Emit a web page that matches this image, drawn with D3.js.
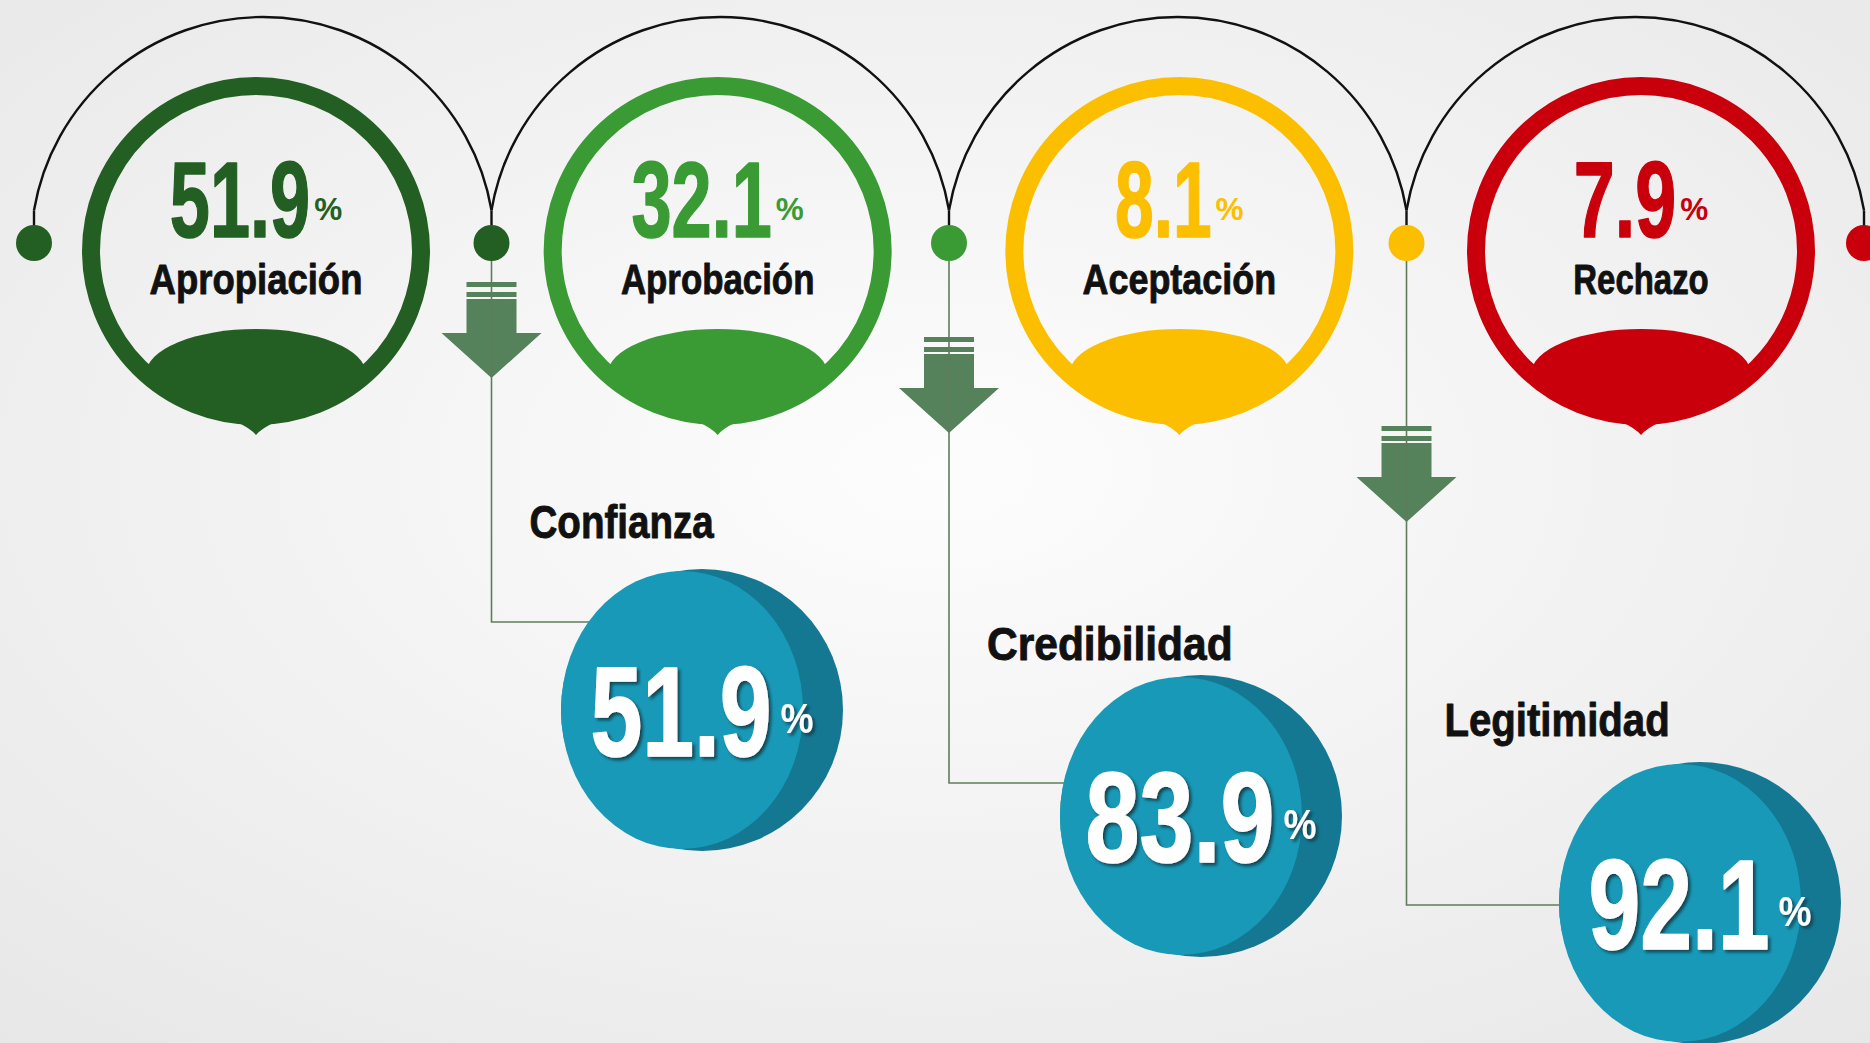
<!DOCTYPE html>
<html><head><meta charset="utf-8">
<script src="https://cdn.jsdelivr.net/npm/d3@7"></script>
<style>html,body{margin:0;padding:0;overflow:hidden;background:#f3f3f3}</style>
</head><body><svg id="c" width="1870" height="1043"></svg>
<script>
// ---- data ----
const categories = ["Apropiación", "Aprobación", "Aceptación", "Rechazo"];
const values = [51.9, 32.1, 8.1, 7.9];
const ringColors = ["#235f22", "#3a9b35", "#fcbf00", "#c9000b"];
const outcomes = ["Confianza", "Credibilidad", "Legitimidad"];
const outcomeValues = [51.9, 83.9, 92.1];

// ---- layout ----
const W = 1870, H = 1043;
const FONT = '"Liberation Sans","Roboto",Arial,sans-serif';
const CAP = 0.716; // cap-height ratio of the font
const svg = d3.select("#c");
const defs = svg.append("defs");
const rg = defs.append("radialGradient").attr("id", "bg").attr("cx", "50%").attr("cy", "45%").attr("r", "75%");
rg.append("stop").attr("offset", "0%").attr("stop-color", "#fdfdfd");
rg.append("stop").attr("offset", "100%").attr("stop-color", "#e7e7e7");
svg.append("rect").attr("width", W).attr("height", H).attr("fill", "url(#bg)");
const f = defs.append("filter").attr("id", "sh").attr("x", "-20%").attr("y", "-20%").attr("width", "140%").attr("height", "140%");
f.append("feDropShadow").attr("dx", 2.5).attr("dy", 2.5).attr("stdDeviation", 1.5)
  .attr("flood-color", "#0a3441").attr("flood-opacity", 0.85);

const xRing = d3.scalePoint().domain(categories).range([256, 1641]);
const xDot = d3.scalePoint().domain(d3.range(categories.length + 1)).range([34, 1864]);
const dotColor = i => ringColors[Math.max(0, i - 1)];
const dotY = 243, dotR = 18, ringCY = 251, R = 165, SW = 18;
const arcCY = 249, arcR = 232;

const fmt = d3.format(".1f");
// condensed-digit width model (in cap-height units)
const numWidth = (s, cap) => d3.sum(s.split(""), ch => ch === "1" ? 0.494 : ch === "." ? 0.195 : 0.571) * cap;

function numberWithPct(g, value, o) {
  const s = fmt(value);
  const cap = o.size * CAP;
  const w = numWidth(s, cap) * o.mult;
  const total = w + o.gap + o.pw;
  const x0 = -total / 2;
  const t = g.append("text").attr("font-family", FONT).attr("font-weight", "bold")
    .attr("font-size", o.size).attr("fill", o.fill).attr("x", x0).attr("y", o.y)
    .attr("stroke", o.fill).attr("stroke-width", 1.6).attr("stroke-linejoin", "round")
    .attr("textLength", w).attr("lengthAdjust", "spacingAndGlyphs").text(s);
  const p = g.append("text").attr("font-family", FONT).attr("font-weight", "bold")
    .attr("font-size", o.pSize).attr("fill", o.fill).attr("x", x0 + w + o.gap).attr("y", o.pY)
    .attr("textLength", o.pw).attr("lengthAdjust", "spacingAndGlyphs").text("%");
  if (o.filter) { t.attr("filter", o.filter); p.attr("filter", o.filter); }
}
function label(sel, txt, size, perChar) {
  return sel.append("text").attr("font-family", FONT).attr("font-weight", "bold")
    .attr("font-size", size).attr("fill", "#111")
    .attr("stroke", "#111").attr("stroke-width", 0.9).attr("stroke-linejoin", "round")
    .attr("textLength", txt.length * perChar * size).attr("lengthAdjust", "spacingAndGlyphs")
    .text(txt);
}

// ---- arcs between dots ----
const arcG = svg.append("g");
const half = (xDot(1) - xDot(0)) / 2;
const arcEndY = arcCY - Math.sqrt(arcR * arcR - half * half);
d3.range(categories.length).forEach(i => {
  const x0 = xDot(i), x1 = xDot(i + 1);
  arcG.append("path")
    .attr("d", `M${x0},${arcEndY} A${arcR},${arcR} 0 0 1 ${x1},${arcEndY}`)
    .attr("fill", "none").attr("stroke", "#111").attr("stroke-width", 2.4);
});
d3.range(categories.length + 1).forEach(i => {
  arcG.append("line").attr("x1", xDot(i)).attr("x2", xDot(i)).attr("y1", arcEndY).attr("y2", dotY)
    .attr("stroke", "#111").attr("stroke-width", 2.4);
});

// ---- connectors, arrows, outcome circles ----
const outX = d3.scalePoint().domain(outcomes).range([702, 1700]);
const outY = d3.scaleOrdinal().domain(outcomes).range([710, 816, 903]);
const elbowY = d3.scaleOrdinal().domain(outcomes).range([622, 783, 905]);
const arrowTop = d3.scaleOrdinal().domain(outcomes).range([282, 337, 426]);
const labelY = d3.scaleOrdinal().domain(outcomes).range([538, 660, 736]);
const outR = 141;
const lineColor = "#5f7d5c", arrowColor = "#55825a";

outcomes.forEach((o, j) => {
  const x = xDot(j + 1);
  const cx = outX(o), cy = outY(o), ey = elbowY(o);
  const ex = cx - Math.sqrt(Math.max(0, outR * outR - (ey - cy) * (ey - cy))) + 2;
  const t = arrowTop(o);
  svg.append("rect").attr("x", x - 25).attr("y", t).attr("width", 50).attr("height", 5).attr("fill", arrowColor);
  svg.append("rect").attr("x", x - 25).attr("y", t + 10).attr("width", 50).attr("height", 5).attr("fill", arrowColor);
  svg.append("path")
    .attr("d", `M${x - 25},${t + 17} H${x + 25} V${t + 51} H${x + 50} L${x},${t + 96} L${x - 50},${t + 51} H${x - 25} Z`)
    .attr("fill", arrowColor);
  svg.append("path").attr("d", `M${x},${dotY} V${ey} H${ex}`)
    .attr("fill", "none").attr("stroke", lineColor).attr("stroke-width", 1.6);
  label(svg, o, 46, 0.445).attr("x", x + 38).attr("y", labelY(o));
  const g = svg.append("g").attr("transform", `translate(${cx},${cy})`);
  g.append("circle").attr("r", outR).attr("fill", "#147893");
  g.append("ellipse").attr("cx", -20).attr("rx", 121).attr("ry", 139).attr("fill", "#1999b8");
  numberWithPct(g, outcomeValues[j], {
    size: 128, mult: 1.08, fill: "#ffffff", y: 46, pSize: 42, pY: 23, pw: 33, gap: 9, filter: "url(#sh)"
  });
});

// ---- rings ----
categories.forEach((c, i) => {
  const cx = xRing(c);
  const g = svg.append("g").attr("transform", `translate(${cx},${ringCY})`);
  const col = ringColors[i];
  const dx = 110, dy = Math.sqrt(R * R - dx * dx);
  g.append("path")
    .attr("d", `M${-dx},${dy} A${dx},45 0 0 1 ${dx},${dy} A${R},${R} 0 0 1 ${-dx},${dy} Z`)
    .attr("fill", col);
  g.append("path")
    .attr("d", `M-48,${R - 2} Q-12,${R + 5} 0,${R + 19} Q12,${R + 5} 48,${R - 2} Z`)
    .attr("fill", col);
  g.append("circle").attr("r", R).attr("fill", "none").attr("stroke", col).attr("stroke-width", SW);
  numberWithPct(g, values[i], {
    size: 107, mult: 1.0, fill: col, y: -14, pSize: 32, pY: -31, pw: 28, gap: 4
  });
  const lt = label(g, c, 43, 0.45).attr("y", 43);
  lt.attr("x", -c.length * 0.45 * 43 / 2);
});

// ---- dots ----
svg.append("g").selectAll("circle").data(d3.range(categories.length + 1)).join("circle")
  .attr("cx", i => xDot(i)).attr("cy", dotY).attr("r", dotR).attr("fill", i => dotColor(i));
</script>
</body></html>
